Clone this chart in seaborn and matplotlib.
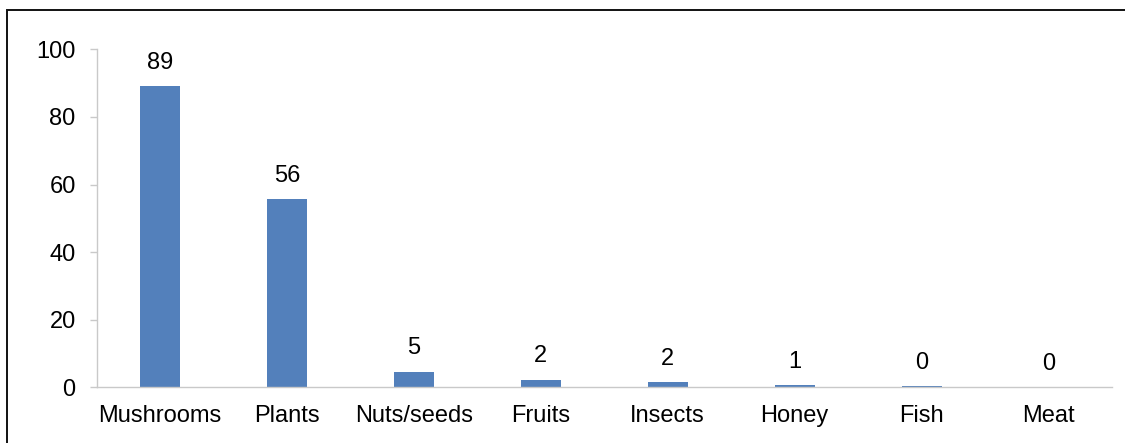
import matplotlib
matplotlib.use("Agg")
import matplotlib.pyplot as plt
from matplotlib.patches import Rectangle
import seaborn as sns
import pandas as pd

# Food categories and their values (labels show the rounded value)
categories = ["Mushrooms", "Plants", "Nuts/seeds", "Fruits", "Insects", "Honey", "Fish", "Meat"]
values = [89.0, 55.6, 4.6, 2.3, 1.5, 0.6, 0.3, 0.0]
y_ticks = [0, 20, 40, 60, 80, 100]

df = pd.DataFrame({"category": categories, "value": values})

sns.set_theme(style="white")
plt.rcParams["font.family"] = ["Liberation Sans", "DejaVu Sans"]

fig = plt.figure(figsize=(11.25, 4.43), dpi=100)
ax = fig.add_axes([0.0858, 0.1257, 0.9026, 0.763])

bar_color = "#5380BB"
sns.barplot(data=df, x="category", y="value", color=bar_color, width=0.315,
            saturation=1, ax=ax)

for patch, v in zip(ax.patches, values):
    patch.set_edgecolor("none")
    ax.annotate(f"{v:.0f}", (patch.get_x() + patch.get_width() / 2, v),
                xytext=(0, 12.5), textcoords="offset points",
                ha="center", va="baseline", fontsize=17, color="black")

ax.set_ylim(0, 100)
ax.set_xlim(-0.5, len(categories) - 0.5)
ax.set_yticks(y_ticks)
ax.set_xlabel("")
ax.set_ylabel("")

axis_gray = "#c9c9c9"
for side in ("top", "right"):
    ax.spines[side].set_visible(False)
for side in ("left", "bottom"):
    ax.spines[side].set_color(axis_gray)
    ax.spines[side].set_linewidth(1.0)

ax.tick_params(axis="y", which="both", left=True, length=5, width=1.0,
               color=axis_gray, pad=10, labelsize=17, labelcolor="black")
ax.tick_params(axis="x", which="both", bottom=False, length=0, pad=12.5,
               labelsize=17, labelcolor="black")

# Outer frame line around the figure
fig.patches.append(Rectangle((7 / 1125, -0.1), 1.2, (443 - 9.5) / 443 + 0.1,
                             transform=fig.transFigure, fill=False,
                             edgecolor="#111111", linewidth=1.4))

fig.savefig("out.png", dpi=100, facecolor="white")
